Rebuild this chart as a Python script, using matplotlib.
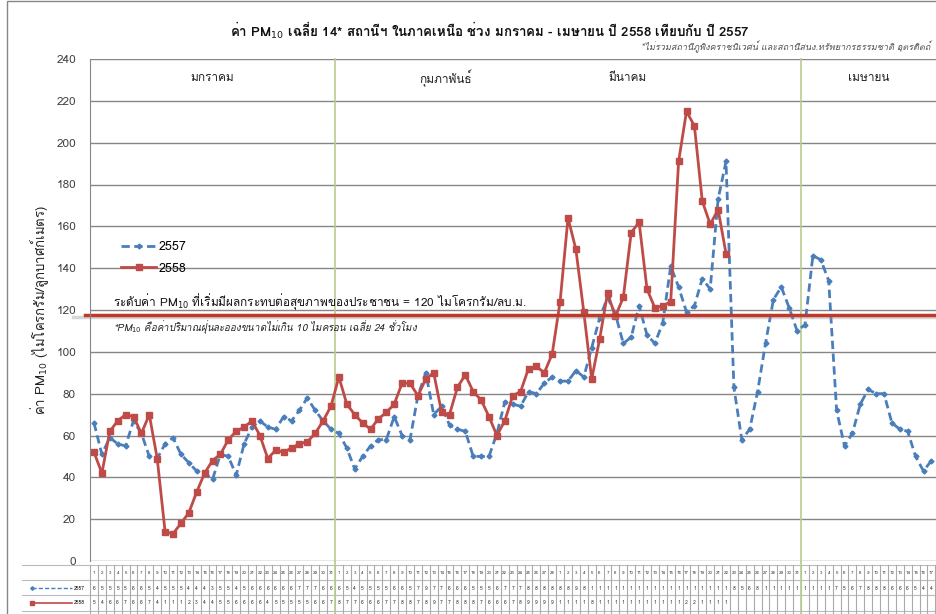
import numpy as np
import matplotlib.pyplot as plt
from matplotlib import font_manager
from matplotlib.ft2font import FT2Font
from matplotlib.lines import Line2D
from matplotlib.patches import Rectangle

# pick an installed font that has Thai glyphs
thai_font = None
for f in font_manager.fontManager.ttflist:
    try:
        if 0x0E04 in FT2Font(f.fname).get_charmap():
            thai_font = f.name
            break
    except Exception:
        pass
plt.rcParams['font.family'] = [thai_font, 'DejaVu Sans'] if thai_font else ['DejaVu Sans']

months = ['มกราคม', 'กุมภาพันธ์', 'มีนาคม', 'เมษายน']
month_days = [31, 28, 31, 17]   # April is cut off at the right edge

pm_2557 = [66, 51, 59, 56, 55, 67, 61, 50, 49, 56, 59, 51, 47, 43, 42, 39, 51, 50, 41, 56,
           64, 67, 64, 63, 69, 67, 72, 78, 72, 67, 63,
           61, 54, 44, 50, 55, 58, 58, 69, 60, 58, 79, 90, 70, 74, 65, 63, 62, 50, 50, 50,
           61, 76, 75, 74, 81, 80, 85, 88,
           86, 86, 91, 88, 102, 116, 126, 118, 104, 107, 122, 108, 104, 114, 141, 131, 119, 122,
           135, 130, 173, 191, 83, 58, 63, 81, 104, 125, 131, 121, 110,
           113, 146, 144, 134, 72, 55, 61, 75, 82, 80, 80, 66, 63, 62, 50, 43, 48]
pm_2558 = [52, 42, 62, 67, 70, 69, 61, 70, 49, 14, 13, 18, 23, 33, 42, 48, 51, 58, 62, 64,
           67, 60, 49, 53, 52, 54, 56, 57, 61, 67, 74,
           88, 75, 70, 66, 63, 68, 71, 75, 85, 85, 79, 87, 90, 71, 70, 83, 89, 81, 77, 69,
           60, 67, 79, 81, 92, 93, 90, 99,
           124, 164, 149, 119, 87, 106, 128, 117, 126, 157, 162, 130, 121, 122, 124, 191, 215,
           208, 172, 161, 168, 147]
day_labels = [d for n in month_days for d in range(1, n + 1)]
threshold = 120

blue = '#4A7EBB'
red = '#BE4B48'
grid_c = '#868686'
green = '#B7CC8F'

W, H = 936, 614
cw, c0 = 7.9, 94          # category width and centre of the first day, in pixels
fig = plt.figure(figsize=(W / 100, H / 100), dpi=100)

# outer chart frame
fig.patches.append(Rectangle((7 / W, -0.1), 1.2, 1 - 1 / H + 0.1, transform=fig.transFigure,
                             fill=False, edgecolor=grid_c, lw=1))

ax = fig.add_axes([90 / W, 53 / H, (W - 90) / W, 502 / H])
x = np.arange(len(pm_2557))
ax.set_xlim((90 - c0) / cw, (W - c0) / cw)
ax.set_ylim(0, 240)
ax.set_yticks(range(0, 241, 20))
ax.set_xticks([])
ax.grid(axis='y', color=grid_c, lw=1)
ax.set_axisbelow(True)
for s in ['top', 'right', 'bottom']:
    ax.spines[s].set_visible(False)
ax.spines['left'].set_color(grid_c)
ax.tick_params(axis='y', length=0, pad=10, labelsize=8.5, labelcolor='#404040')

bounds = np.cumsum(month_days) - 0.5
starts = np.concatenate([[-0.5], bounds[:-1]])
for b in [bounds[0], bounds[2]]:
    ax.axvline(b, color=green, lw=1.2, ymax=1, clip_on=False)
month_x = [(starts[0] + bounds[0]) / 2, (starts[1] + bounds[1]) / 2,
           starts[2] + 9, bounds[2] + 8.5]
for mx, name in zip(month_x, months):
    ax.text(mx, 231, name, ha='center', va='center', fontsize=8.5, color='#202020')

ax.plot(x, pm_2557, color=blue, lw=2, ls=(0, (3, 1.6)), marker='D', ms=2.5, label='2557')
ax.plot(np.arange(len(pm_2558)), pm_2558, color=red, lw=2, marker='s', ms=3.8,
        mec=red, label='2558')

# threshold line (drawn a little below 120 as in the original shape)
ty = threshold - 2.5
ax.plot([-0.02, 1], [ty - 0.9, ty - 0.9], transform=ax.get_yaxis_transform(),
        color='#999999', lw=2.5, alpha=0.4, clip_on=False)
ax.plot([-0.006, 1], [ty, ty], transform=ax.get_yaxis_transform(),
        color='#C0392B', lw=2.5, clip_on=False)

ax.legend(loc='upper left', bbox_to_anchor=(110 / W, 1 - 230 / H), bbox_transform=fig.transFigure,
          frameon=False, fontsize=9, handlelength=2.8, labelspacing=0.75, handletextpad=0.2)

fig.text(113 / W, 1 - 302 / H,
         'ระดับค่า PM$_{10}$ ที่เริ่มมีผลกระทบต่อสุขภาพของประชาชน = %d ไมโครกรัม/ลบ.ม.' % threshold,
         fontsize=8.5, va='center', color='#111111')
fig.text(113 / W, 1 - 327 / H,
         '*PM$_{10}$ คือค่าปริมาณฝุ่นละอองขนาดไม่เกิน 10 ไมครอน เฉลี่ย 24 ชั่วโมง',
         fontsize=7, va='center', style='italic', color='#222222')

fig.text(490 / W, 1 - 30 / H,
         'ค่า PM$_{10}$ เฉลี่ย 14* สถานีฯ ในภาคเหนือ ช่วง มกราคม - เมษายน ปี 2558 เทียบกับ ปี 2557',
         ha='center', va='center', fontsize=9.6, fontweight='bold', color='#111111')
fig.text(930 / W, 1 - 47 / H,
         '*ไม่รวมสถานีภูพิงคราชนิเวศน์ และสถานีสนง.ทรัพยากรธรรมชาติ อุตรดิตถ์',
         ha='right', va='center', fontsize=6.5, style='italic', color='#555555')

fig.text(40 / W, 1 - 310 / H, 'ค่า PM$_{10}$ (ไมโครกรัม/ลูกบาศก์เมตร)', rotation=90,
         ha='center', va='center', fontsize=9.5, color='#222222')

# data table under the chart
tab = fig.add_axes([0, 0, 1, 53 / H])
tab.set_xlim(-c0 / cw, (W - c0) / cw)
tab.set_ylim(53, 0)
tab.axis('off')
rows_y = [12, 27, 42]
for yy in [4, 19, 34, 50]:
    tab.plot([(22 - c0) / cw, len(day_labels)], [yy, yy], color='#BBBBBB', lw=0.8)
for b in np.arange(len(day_labels) + 1) - 0.5:
    tab.plot([b, b], [4, 53], color='#AAAAAA', lw=0.8)
for b in [bounds[0], bounds[2]]:
    tab.plot([b, b], [0, 53], color=green, lw=1.2)
for i, d in enumerate(day_labels):
    tab.text(i, rows_y[0], str(d), ha='center', va='center', fontsize=3.2, color='#333333')
for i, v in enumerate(pm_2557):
    tab.text(i, rows_y[1], str(v)[0], ha='center', va='center', fontsize=3.6, color='#333333')
for i, v in enumerate(pm_2558):
    tab.text(i, rows_y[2], str(v)[0], ha='center', va='center', fontsize=3.6, color='#333333')
kx = np.array([32, 72]) - c0
tab.add_line(Line2D(kx / cw, [rows_y[1]] * 2, color=blue, lw=1, ls=(0, (3, 1.5)),
                    marker='D', ms=1.8, markevery=[0]))
tab.add_line(Line2D(kx / cw, [rows_y[2]] * 2, color=red, lw=1.2, marker='s', ms=2.5, markevery=[0]))
tab.text((74 - c0) / cw, rows_y[1], '2557', fontsize=3.5, va='center')
tab.text((74 - c0) / cw, rows_y[2], '2558', fontsize=3.5, va='center')

fig.savefig('out.png', dpi=100)
